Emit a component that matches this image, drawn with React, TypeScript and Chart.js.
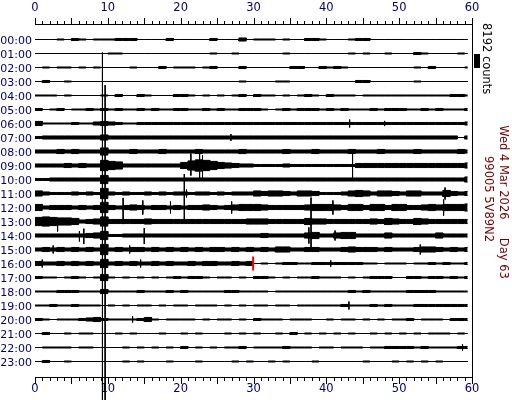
import React, { useEffect, useRef } from "react";
import { Chart, registerables } from "chart.js";

Chart.register(...registerables);

// ---- data ----
const hourLabels = [
  "00:00", "01:00", "02:00", "03:00", "04:00", "05:00", "06:00", "07:00",
  "08:00", "09:00", "10:00", "11:00", "12:00", "13:00", "14:00", "15:00",
  "16:00", "17:00", "18:00", "19:00", "20:00", "21:00", "22:00", "23:00",
];
const minuteLabels = [0, 10, 20, 30, 40, 50, 60];
const countsPerRow = 8192; // one row spacing = scale bar
const envelopeUnit = 300; // counts per envelope step (base-36 digit)
const traceEndMinute = 59.4;

// half-amplitude envelope per minute (60 steps per hour row, base-36 digits)
const envelope = [
  "0001021011 1222000020 0000200030 1110100221 0001220000 0000000000",
  "0000000000 1100000000 0000100100 0000100000 0001010010 0021000010",
  "0101101010 0001000201 1101200020 0000022002 1210000000 0010200001",
  "0200100000 0000000000 0000000010 0001100000 0000220000 0010000000",
  "1110100001 0200210002 2101010120 2110101210 2111011111 1111111221",
  "2012011212 1211212112 2112121122 2101212221 2121112122 2112121112",
  "4111121134 3211222222 2222222222 2222222222 2222222222 2222222223",
  "2333333335 3333333333 3333333333 3333333333 3333333333 3333333303",
  "3334343337 3334333433 3343333343 3333433343 3334333433 3343333343",
  "333343433a 8733333333 69ba865433 2222322222 2222444444 4444444445",
  "2233333338 3333333333 3333333333 3333333333 3333333333 3333333335",
  "532223232a 3232232323 3233232333 5455435542 2235653554 3553336434",
  "634443434a 4345434434 3445434566 6544444566 6546646646 6445656667",
  "8987763459 4444454444 4444444445 5544444655 4444445465 4465444444",
  "3333333458 2233333333 3333333333 3433333563 3566333353 3333353333",
  "343434343a 3434434343 4343443434 3435533443 3345444343 3345543434",
  "4334343438 3434334343 3434433434 0101221122 2222211011 1011212112",
  "2110121016 1010101012 1221011010 2210101121 1101012220 0221221212",
  "1112221114 1111211121 2111112211 1101111111 1112121111 1222211111",
  "1121121110 1010110101 1011101010 1101101111 1121112121 1122222222",
  "2101112342 1111241011 1101011010 2111011100 1011010101 1201110222",
  "0200101100 0101000100 1010001010 1001020101 0101001010 1010111010",
  "0111101100 0010101010 2010101120 1111211101 1011101122 2212111122",
  "0200100000 0010100010 0010000101 0010100010 0000010001 0101010000",
];

// isolated spikes: [hour row, minute, counts up, counts down]
const spikes: [number, number, number, number][] = [
  [1, 9.26, 600, 202700],
  [4, 9.63, 6100, 178200],
  [6, 43.2, 2300, 2300],
  [6, 48.0, 1500, 1500],
  [7, 26.9, 2000, 2000],
  [9, 21.4, 7000, 5900],
  [9, 22.6, 7600, 8200],
  [9, 23.0, 5900, 7600],
  [9, 43.6, 8200, 7600],
  [11, 20.8, 2300, 2300],
  [11, 56.3, 3500, 3500],
  [12, 12.1, 5600, 9700],
  [12, 14.8, 4100, 4100],
  [12, 18.6, 3500, 3500],
  [12, 20.5, 19600, 6700],
  [12, 27.0, 3500, 3500],
  [12, 40.9, 4100, 4100],
  [12, 56.1, 4700, 4700],
  [13, 3.1, 1500, 5800],
  [13, 37.9, 14000, 15200],
  [14, 6.1, 2600, 3500],
  [14, 6.7, 4000, 5000],
  [14, 15.0, 4300, 5000],
  [14, 37.6, 4700, 4700],
  [14, 41.2, 2900, 2900],
  [15, 2.5, 2300, 2300],
  [15, 13.0, 2300, 2300],
  [15, 52.9, 2900, 2900],
  [16, 1.0, 2300, 2300],
  [16, 14.5, 2300, 2300],
  [16, 40.6, 1800, 1800],
  [19, 43.1, 2300, 2300],
  [20, 13.4, 1800, 1800],
  [22, 58.7, 1800, 1800],
];

const nowMarker = { hour: 16, minute: 29.95, counts: 4100 };

const scaleLabel = "8192 counts";
const dateLabel = "Wed 4 Mar 2026     Day 63";
const stationLabel = "99005 5V89N2";

// ---- chart ----
const labelColor = "#000070";
const textRed = "#700000";

function buildDatasets() {
  const ds: any[] = [];
  ds.push({
    label: "now",
    data: [
      { x: nowMarker.minute, y: nowMarker.hour - nowMarker.counts / countsPerRow },
      { x: nowMarker.minute, y: nowMarker.hour + nowMarker.counts / countsPerRow },
    ],
    borderColor: "#ff0000",
    borderWidth: 2,
    pointRadius: 0,
    fill: false,
    clip: false,
  });
  const spikePts: any[] = [];
  spikes.forEach(([h, m, up, down]) => {
    spikePts.push({ x: m, y: h - up / countsPerRow });
    spikePts.push({ x: m, y: h + down / countsPerRow });
    spikePts.push({ x: m, y: null });
  });
  ds.push({
    label: "spikes",
    data: spikePts,
    borderColor: "#000",
    borderWidth: 1,
    pointRadius: 0,
    spanGaps: false,
    fill: false,
    clip: false,
  });
  envelope.forEach((rowStr, h) => {
    const amps = rowStr
      .replace(/ /g, "")
      .split("")
      .map((c) => (parseInt(c, 36) * envelopeUnit) / countsPerRow);
    // each minute bin is a flat segment from its start to its end
    const pts = (sign: number) => {
      const arr: any[] = [];
      amps.forEach((a, m) => {
        arr.push({ x: m, y: h + sign * a });
        arr.push({ x: Math.min(m + 1, traceEndMinute), y: h + sign * a });
      });
      return arr;
    };
    ds.push({
      label: hourLabels[h] + " top",
      data: pts(-1),
      borderColor: "#000",
      borderWidth: 1,
      pointRadius: 0,
      fill: false,
    });
    ds.push({
      label: hourLabels[h] + " bottom",
      data: pts(1),
      borderColor: "#000",
      borderWidth: 1,
      pointRadius: 0,
      fill: "-1",
      backgroundColor: "#000",
    });
  });
  return ds;
}

const framePlugin = {
  id: "heliFrame",
  afterDraw(chart: any) {
    const { ctx, chartArea: a, scales } = chart;
    const xs = scales.x;
    const ys = scales.y;
    ctx.save();
    ctx.strokeStyle = "#000";
    ctx.lineWidth = 1;
    ctx.beginPath();
    ctx.moveTo(a.left, a.top - 0.5);
    ctx.lineTo(a.right + 1, a.top - 0.5);
    ctx.moveTo(a.left, a.bottom + 0.5);
    ctx.lineTo(a.right + 1, a.bottom + 0.5);
    ctx.moveTo(a.right + 0.5, a.top - 1);
    ctx.lineTo(a.right + 0.5, a.bottom + 1);
    for (let m = 0; m <= 60; m++) {
      const px = Math.round(xs.getPixelForValue(m)) + 0.5;
      const len = m % 5 === 0 ? 7 : 4;
      ctx.moveTo(px, a.top);
      ctx.lineTo(px, a.top - len);
      ctx.moveTo(px, a.bottom);
      ctx.lineTo(px, a.bottom + len);
    }
    ctx.stroke();
    // scale bar: one row spacing = countsPerRow
    const y1 = Math.round(ys.getPixelForValue(1));
    const y2 = Math.round(ys.getPixelForValue(2));
    ctx.fillStyle = "#000";
    ctx.fillRect(a.right + 2, y1, 6, y2 - y1);

    const drawV = (text: string, x: number, y: number, color: string, align: CanvasTextAlign) => {
      ctx.save();
      ctx.translate(x, y);
      ctx.rotate(Math.PI / 2);
      ctx.fillStyle = color;
      ctx.font = '11.5px "DejaVu Sans"';
      ctx.textAlign = align;
      ctx.textBaseline = "middle";
      ctx.fillText(text, 0, 0);
      ctx.restore();
    };
    const mid = (a.top + a.bottom) / 2;
    drawV(scaleLabel, a.right + 14, a.top - 2, "#000", "left");
    drawV(dateLabel, a.right + 30.5, mid + 1, textRed, "center");
    drawV(stationLabel, a.right + 16, mid - 2, textRed, "center");
    ctx.restore();
  },
};

export default function App() {
  const ref = useRef<HTMLCanvasElement | null>(null);
  useEffect(() => {
    if (!ref.current) return;
    const xTick = {
      color: labelColor,
      font: { family: "DejaVu Sans", size: 11.5 },
      autoSkip: false,
      maxRotation: 0,
      minRotation: 0,
      callback: (v: any) => String(v),
    };
    const chart = new Chart(ref.current, {
      type: "line",
      data: { datasets: buildDatasets() },
      options: {
        animation: false,
        responsive: false,
        events: [],
        layout: { padding: { left: 0, right: 40, top: 0, bottom: 0 } },
        plugins: { legend: { display: false }, tooltip: { enabled: false } },
        elements: { point: { radius: 0 }, line: { tension: 0 } },
        scales: {
          x: {
            type: "linear",
            position: "bottom",
            min: 0,
            max: 60,
            grid: { display: false, drawTicks: false },
            border: { display: false },
            ticks: { ...xTick, padding: 5 },
            afterBuildTicks: (s: any) => {
              s.ticks = minuteLabels.map((v) => ({ value: v }));
            },
            afterFit: (s: any) => {
              s.height = 23;
            },
          },
          x2: {
            type: "linear",
            position: "top",
            min: 0,
            max: 60,
            display: true,
            grid: { display: false, drawTicks: false },
            border: { display: false },
            ticks: { ...xTick, padding: 10 },
            afterBuildTicks: (s: any) => {
              s.ticks = minuteLabels.map((v) => ({ value: v }));
            },
            afterFit: (s: any) => {
              s.height = 25;
            },
          },
          y: {
            type: "linear",
            reverse: true,
            min: -1.0357143,
            max: 24.1071429,
            grid: { display: false, drawTicks: false },
            border: { display: false },
            ticks: {
              color: labelColor,
              font: { family: "DejaVu Sans", size: 11 },
              padding: 3,
              labelOffset: 1.5,
              autoSkip: false,
              callback: (v: any) => hourLabels[v] ?? "",
            },
            afterBuildTicks: (s: any) => {
              s.ticks = hourLabels.map((_, i) => ({ value: i }));
            },
            afterFit: (s: any) => {
              s.width = 35;
            },
          },
        },
      } as any,
      plugins: [framePlugin],
    });
    return () => chart.destroy();
  }, []);
  return (
    <div style={{ position: "fixed", left: 0, top: 0, width: 512, height: 400, background: "#fff" }}>
      <canvas ref={ref} width={512} height={400} style={{ display: "block" }} />
    </div>
  );
}
